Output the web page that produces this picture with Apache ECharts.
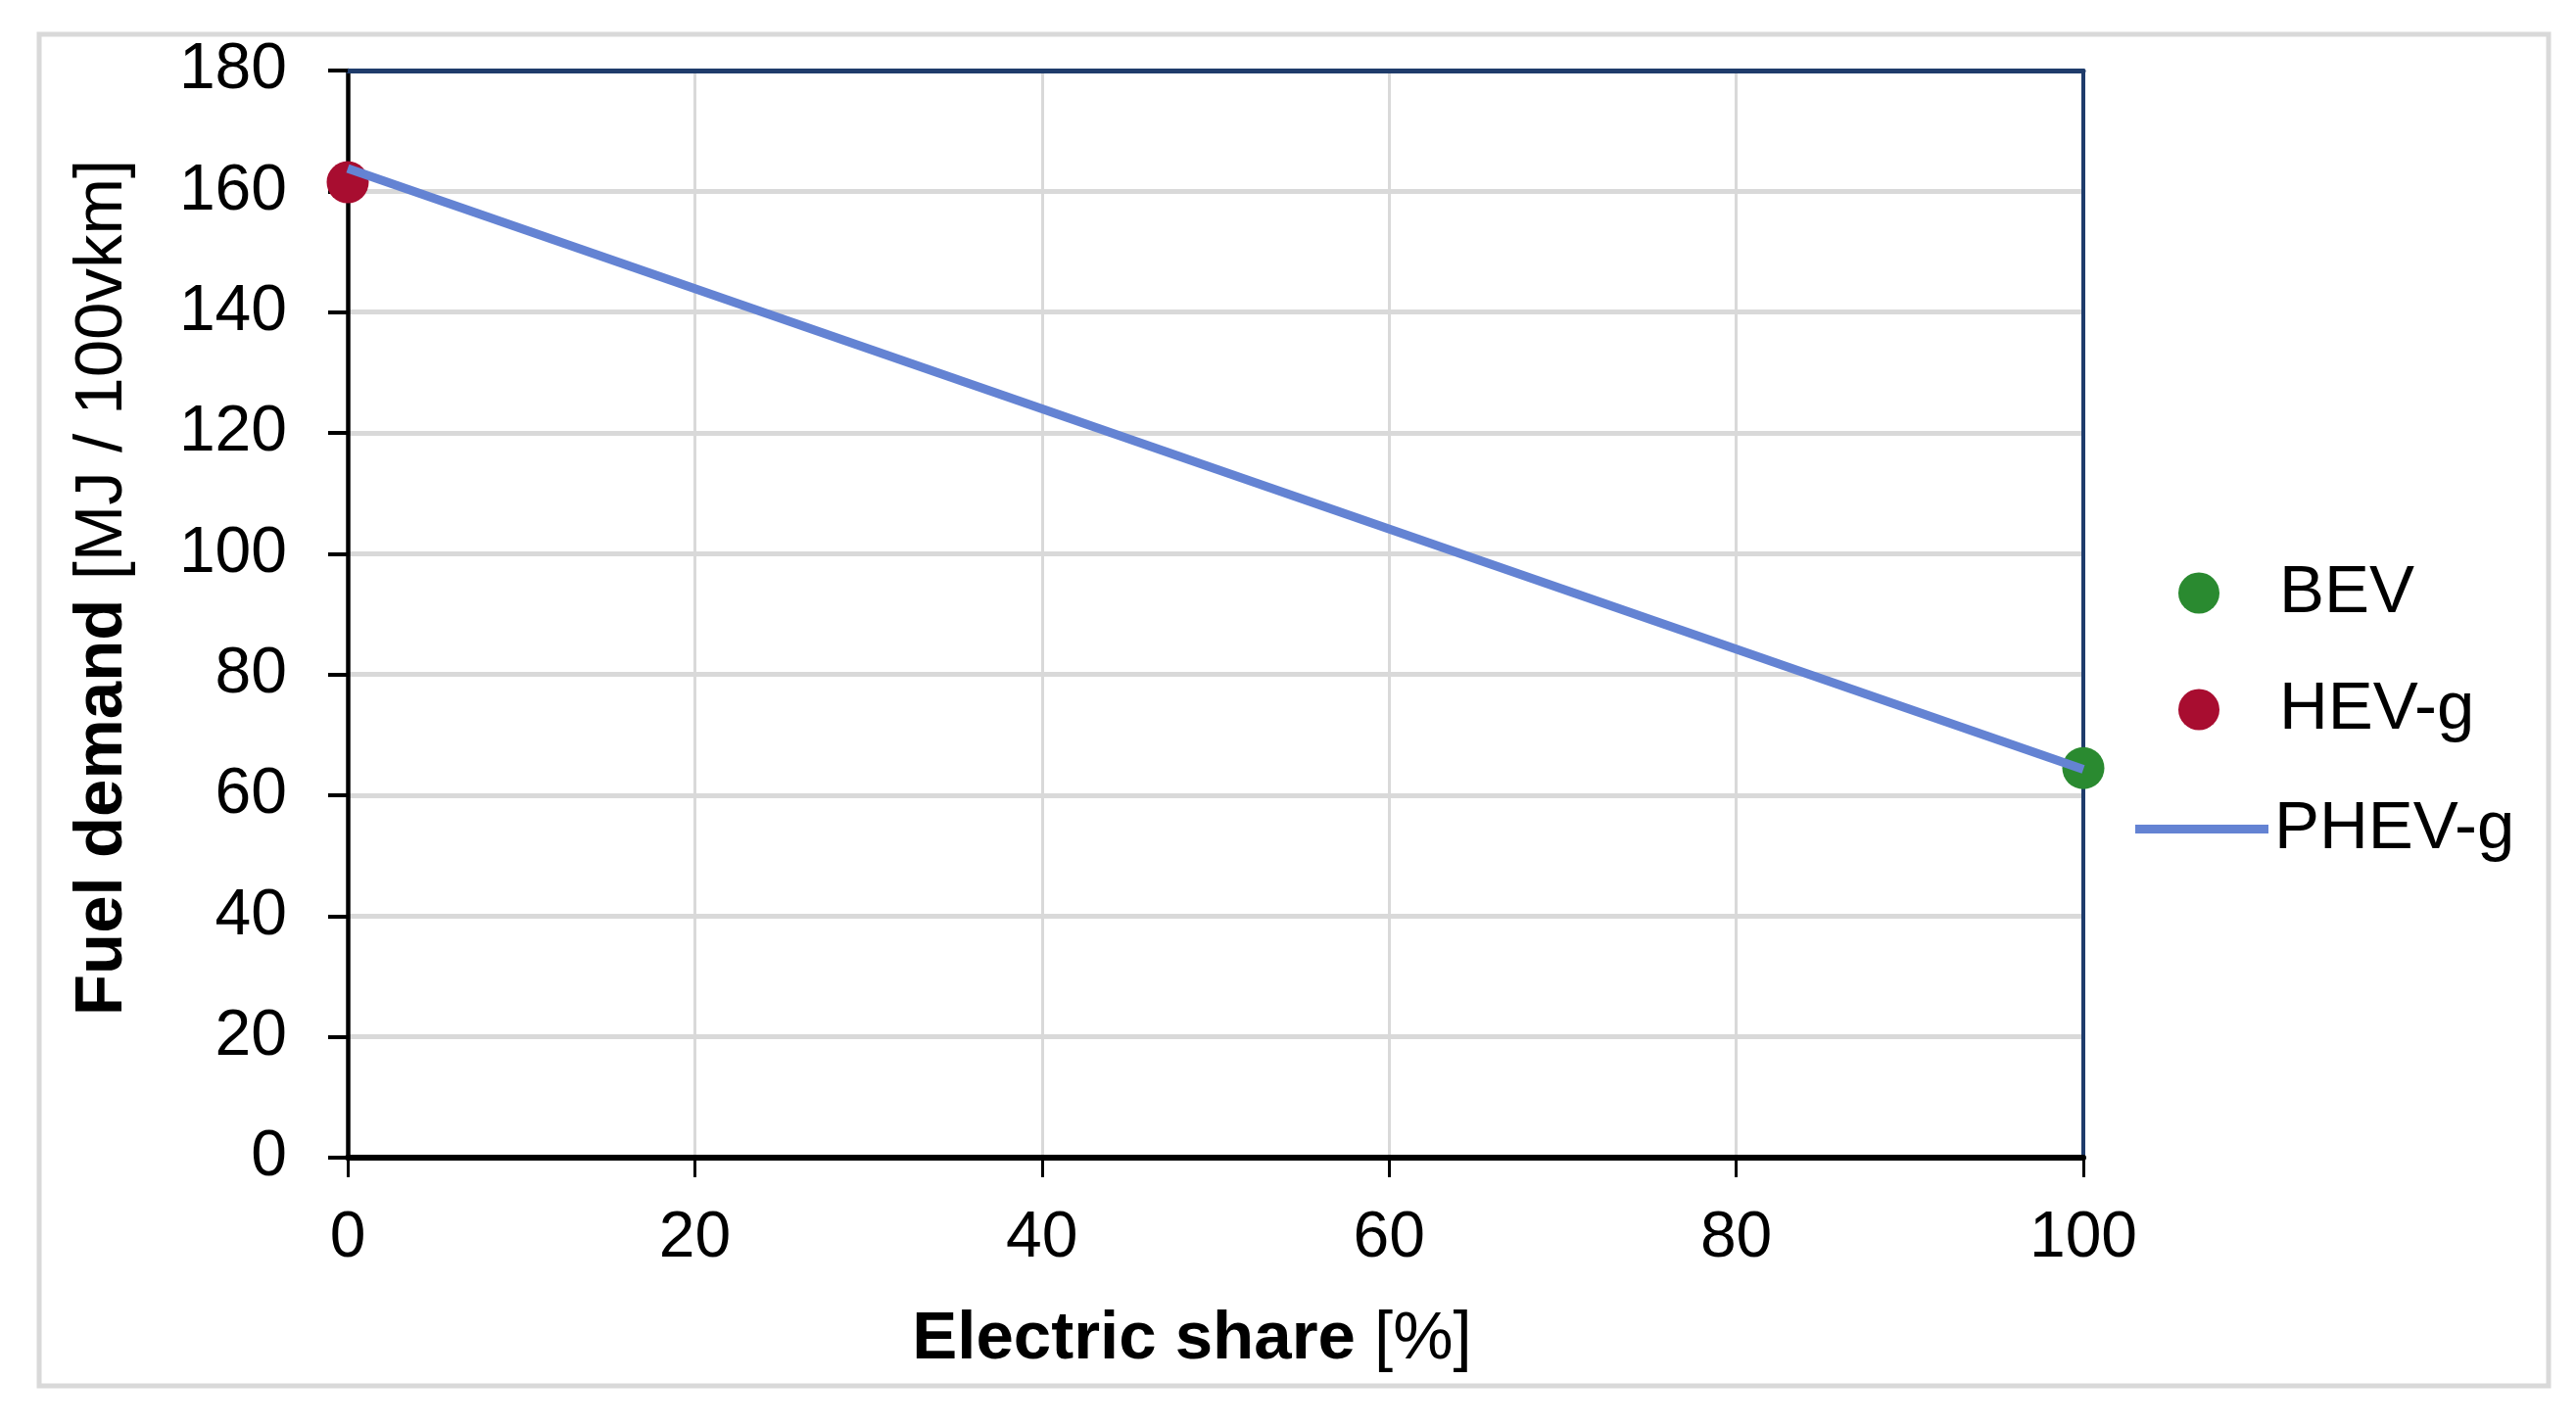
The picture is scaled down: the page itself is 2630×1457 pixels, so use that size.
<!DOCTYPE html>
<html>
<head>
<meta charset="utf-8">
<script src="https://cdn.jsdelivr.net/npm/echarts@6/dist/echarts.min.js"></script>
<style>
html,body{margin:0;padding:0;background:#fff;}
#c{width:2630px;height:1457px;}
</style>
</head>
<body>
<div id="c"></div>
<script>
// ---- data ----
var seriesNames = ['BEV', 'HEV-g', 'PHEV-g'];
var bevPoints = [[100, 64.5]];
var hevPoints = [[0, 161.5]];
var phevX = [0, 100];
var phevY = [163.8, 64.3];
var xTicks = [0, 20, 40, 60, 80, 100];
var yTicks = [0, 20, 40, 60, 80, 100, 120, 140, 160, 180];
var xTitleBold = 'Electric share';
var xTitleRest = ' [%]';
var yTitleBold = 'Fuel demand';
var yTitleRest = ' [MJ / 100vkm]';

var FONT = "'Liberation Sans', Arial, sans-serif";
var NAVY = '#1f3c6b';
var phevData = phevX.map(function (x, i) { return [x, phevY[i]]; });
var xMin = xTicks[0], xMax = xTicks[xTicks.length - 1];
var yMin = yTicks[0], yMax = yTicks[yTicks.length - 1];

var chart = echarts.init(document.getElementById('c'), null, {renderer: 'canvas'});
chart.setOption({
  backgroundColor: '#ffffff',
  animation: false,
  textStyle: {fontFamily: FONT, color: '#000'},
  grid: {left: 355, right: 503, top: 72, bottom: 275, show: false},
  xAxis: [
    {
      type: 'value', min: xMin, max: xMax, interval: 20, position: 'bottom',
      axisLine: {show: true, onZero: false, lineStyle: {color: '#000', width: 6}},
      axisTick: {show: true, inside: false, length: 20, lineStyle: {color: '#000', width: 3}},
      axisLabel: {margin: 50, fontSize: 66, color: '#000', fontFamily: FONT},
      splitLine: {show: true, lineStyle: {color: '#d9d9d9', width: 3}},
      z: 3
    },
    {
      type: 'value', min: xMin, max: xMax, interval: 20, position: 'top',
      axisLine: {show: true, onZero: false, lineStyle: {color: NAVY, width: 5}},
      axisTick: {show: false}, axisLabel: {show: false}, splitLine: {show: false},
      z: 3
    }
  ],
  yAxis: [
    {
      type: 'value', min: yMin, max: yMax, interval: 20, position: 'left',
      axisLine: {show: true, onZero: false, lineStyle: {color: '#000', width: 4.5}},
      axisTick: {show: true, inside: false, length: 20, lineStyle: {color: '#000', width: 4}},
      axisLabel: {margin: 62, fontSize: 66, color: '#000', fontFamily: FONT},
      splitLine: {show: true, lineStyle: {color: '#d9d9d9', width: 5}},
      z: 3
    },
    {
      type: 'value', min: yMin, max: yMax, interval: 20, position: 'right',
      axisLine: {show: true, onZero: false, lineStyle: {color: NAVY, width: 4}},
      axisTick: {show: false}, axisLabel: {show: false}, splitLine: {show: false},
      z: 3
    }
  ],
  legend: [
    {
      orient: 'vertical', left: 2219, top: 566,
      itemWidth: 42, itemHeight: 42, itemGap: 50,
      data: [{name: seriesNames[0], icon: 'circle'}, {name: seriesNames[1], icon: 'circle'}],
      textStyle: {fontSize: 69, color: '#000', fontFamily: FONT, padding: [0, 0, 0, 56]},
      selectedMode: false
    },
    {
      orient: 'vertical', left: 2175, top: 807,
      itemWidth: 136, itemHeight: 40,
      data: [{name: seriesNames[2], icon: 'path://M0,0L136,0L136,9L0,9Z'}],
      textStyle: {fontSize: 69, color: '#000', fontFamily: FONT, padding: [0, 0, 0, 1]},
      selectedMode: false
    }
  ],
  graphic: [
    {
      type: 'rect', z: -10, silent: true,
      shape: {x: 40, y: 35, width: 2562, height: 1380},
      style: {fill: 'none', stroke: '#d9d9d9', lineWidth: 5}
    },
    {
      type: 'text', x: 1217, y: 1368, silent: true,
      style: {
        text: '{b|' + xTitleBold + '}' + xTitleRest,
        fontSize: 69, fontFamily: FONT, fill: '#000',
        align: 'center', verticalAlign: 'middle',
        rich: {b: {fontWeight: 'bold', fontSize: 69, fontFamily: FONT, fill: '#000'}}
      }
    },
    {
      type: 'text', x: 105, y: 600, rotation: Math.PI / 2, silent: true,
      style: {
        text: '{b|' + yTitleBold + '}' + yTitleRest,
        fontSize: 69, fontFamily: FONT, fill: '#000',
        align: 'center', verticalAlign: 'middle',
        rich: {b: {fontWeight: 'bold', fontSize: 69, fontFamily: FONT, fill: '#000'}}
      }
    }
  ],
  series: [
    {
      name: seriesNames[0], type: 'scatter', data: bevPoints, symbol: 'circle', symbolSize: 43,
      itemStyle: {color: '#2a8a30', opacity: 1}, clip: false, z: 4
    },
    {
      name: seriesNames[1], type: 'scatter', data: hevPoints, symbol: 'circle', symbolSize: 43,
      itemStyle: {color: '#a80d30', opacity: 1}, clip: false, z: 4
    },
    {
      name: seriesNames[2], type: 'line', data: phevData, symbol: 'none', showSymbol: false,
      lineStyle: {color: '#6483d3', width: 9}, itemStyle: {color: '#6483d3'}, clip: false, z: 5
    }
  ]
});
</script>
</body>
</html>
